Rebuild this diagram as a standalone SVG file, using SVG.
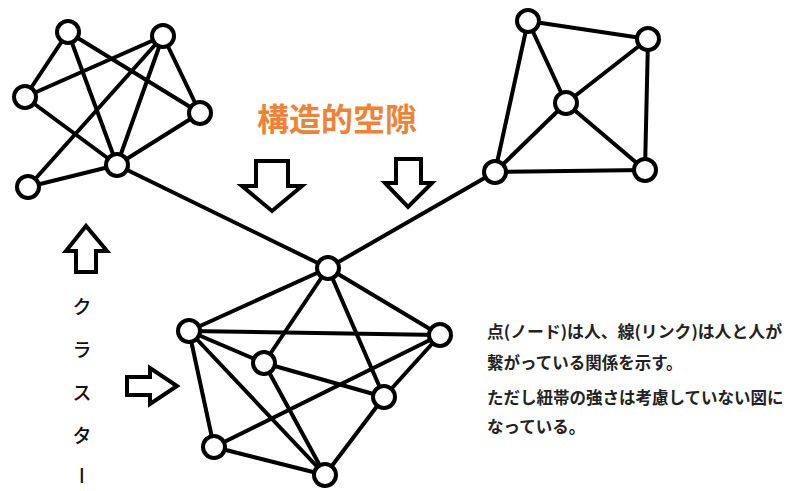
<svg xmlns="http://www.w3.org/2000/svg" width="792" height="491" viewBox="0 0 792 491">
<style>
.e{stroke:#000;stroke-width:4;fill:none;stroke-linecap:round}
.n{stroke:#000;stroke-width:4;fill:#fff}
.ar{stroke:#000;stroke-width:4;fill:#fff;stroke-linejoin:miter}
.t{font-family:"Noto Sans CJK JP","Noto Sans",sans-serif;font-weight:bold;fill:#222;font-size:16.5px}
.k{font-family:"Noto Sans CJK JP","Noto Sans",sans-serif;font-weight:500;fill:#111;font-size:19px}
.h{font-family:"Noto Sans CJK JP","Noto Sans",sans-serif;font-weight:bold;fill:#EE8236;font-size:32px}
</style>
<rect width="792" height="491" fill="#fff"/>
<g id="connectors">
<line class="e" x1="68" y1="32" x2="25" y2="97"/>
<line class="e" x1="68" y1="32" x2="200" y2="113"/>
<line class="e" x1="68" y1="32" x2="117" y2="165"/>
<line class="e" x1="163" y1="36" x2="25" y2="97"/>
<line class="e" x1="163" y1="36" x2="28" y2="187"/>
<line class="e" x1="163" y1="36" x2="117" y2="165"/>
<line class="e" x1="163" y1="36" x2="200" y2="113"/>
<line class="e" x1="25" y1="97" x2="117" y2="165"/>
<line class="e" x1="200" y1="113" x2="117" y2="165"/>
<line class="e" x1="28" y1="187" x2="117" y2="165"/>
<line class="e" x1="117" y1="165" x2="328" y2="268"/>
<line class="e" x1="528" y1="21" x2="648" y2="39"/>
<line class="e" x1="528" y1="21" x2="566" y2="103"/>
<line class="e" x1="528" y1="21" x2="495" y2="172"/>
<line class="e" x1="648" y1="39" x2="566" y2="103"/>
<line class="e" x1="648" y1="39" x2="645" y2="170"/>
<line class="e" x1="566" y1="103" x2="495" y2="172"/>
<line class="e" x1="566" y1="103" x2="645" y2="170"/>
<line class="e" x1="495" y1="172" x2="645" y2="170"/>
<line class="e" x1="495" y1="172" x2="328" y2="268"/>
<line class="e" x1="328" y1="268" x2="189" y2="331"/>
<line class="e" x1="328" y1="268" x2="264" y2="363"/>
<line class="e" x1="328" y1="268" x2="384" y2="397"/>
<line class="e" x1="328" y1="268" x2="440" y2="335"/>
<line class="e" x1="189" y1="331" x2="440" y2="335"/>
<line class="e" x1="189" y1="331" x2="264" y2="363"/>
<line class="e" x1="189" y1="331" x2="325" y2="475"/>
<line class="e" x1="189" y1="331" x2="214" y2="447"/>
<line class="e" x1="264" y1="363" x2="384" y2="397"/>
<line class="e" x1="264" y1="363" x2="325" y2="475"/>
<line class="e" x1="440" y1="335" x2="214" y2="447"/>
<line class="e" x1="440" y1="335" x2="384" y2="397"/>
<line class="e" x1="384" y1="397" x2="325" y2="475"/>
<line class="e" x1="214" y1="447" x2="325" y2="475"/>
</g>
<g id="nodeA"><circle class="n" cx="68" cy="32" r="11"/></g>
<g id="nodeB"><circle class="n" cx="163" cy="36" r="11"/></g>
<g id="nodeC"><circle class="n" cx="25" cy="97" r="11"/></g>
<g id="nodeD"><circle class="n" cx="200" cy="113" r="11"/></g>
<g id="nodeE"><circle class="n" cx="117" cy="165" r="11"/></g>
<g id="nodeF"><circle class="n" cx="28" cy="187" r="11"/></g>
<g id="nodeG"><circle class="n" cx="528" cy="21" r="11"/></g>
<g id="nodeH"><circle class="n" cx="648" cy="39" r="11"/></g>
<g id="nodeI"><circle class="n" cx="566" cy="103" r="11"/></g>
<g id="nodeJ"><circle class="n" cx="495" cy="172" r="11"/></g>
<g id="nodeK"><circle class="n" cx="645" cy="170" r="11"/></g>
<g id="nodeP"><circle class="n" cx="328" cy="268" r="11"/></g>
<g id="nodeQ"><circle class="n" cx="189" cy="331" r="11"/></g>
<g id="nodeR"><circle class="n" cx="440" cy="335" r="11"/></g>
<g id="nodeS"><circle class="n" cx="264" cy="363" r="11"/></g>
<g id="nodeT"><circle class="n" cx="384" cy="397" r="11"/></g>
<g id="nodeU"><circle class="n" cx="214" cy="447" r="11"/></g>
<g id="nodeV"><circle class="n" cx="325" cy="475" r="11"/></g>
<g id="arrows">
<polygon class="ar" points="256,161 288,161 288,186 302,186 272,211 242,186 256,186"/>
<polygon class="ar" points="396,159 421,159 421,183 432,183 408,207 385,183 396,183"/>
<polygon class="ar" points="76,272 96,272 96,251 107,251 86,226 66,251 76,251"/>
<polygon class="ar" points="127,377 150,377 150,368 177,386 150,404 150,395 127,395"/>
</g>
<g id="labels">
<text class="h" x="337" y="131" text-anchor="middle">構造的空隙</text>
<text class="k" x="82" y="314" text-anchor="middle">ク</text>
<text class="k" x="82" y="357" text-anchor="middle">ラ</text>
<text class="k" x="82" y="400" text-anchor="middle">ス</text>
<text class="k" x="82" y="443" text-anchor="middle">タ</text>
<text class="k" x="82" y="466" writing-mode="tb">ー</text>
<text class="t" x="487" y="338" textLength="295" lengthAdjust="spacingAndGlyphs">点(ノード)は人、線(リンク)は人と人が</text>
<text class="t" x="487" y="369">繋がっている関係を示す。</text>
<text class="t" x="487" y="404">ただし紐帯の強さは考慮していない図に</text>
<text class="t" x="487" y="433">なっている。</text>
</g>
</svg>
